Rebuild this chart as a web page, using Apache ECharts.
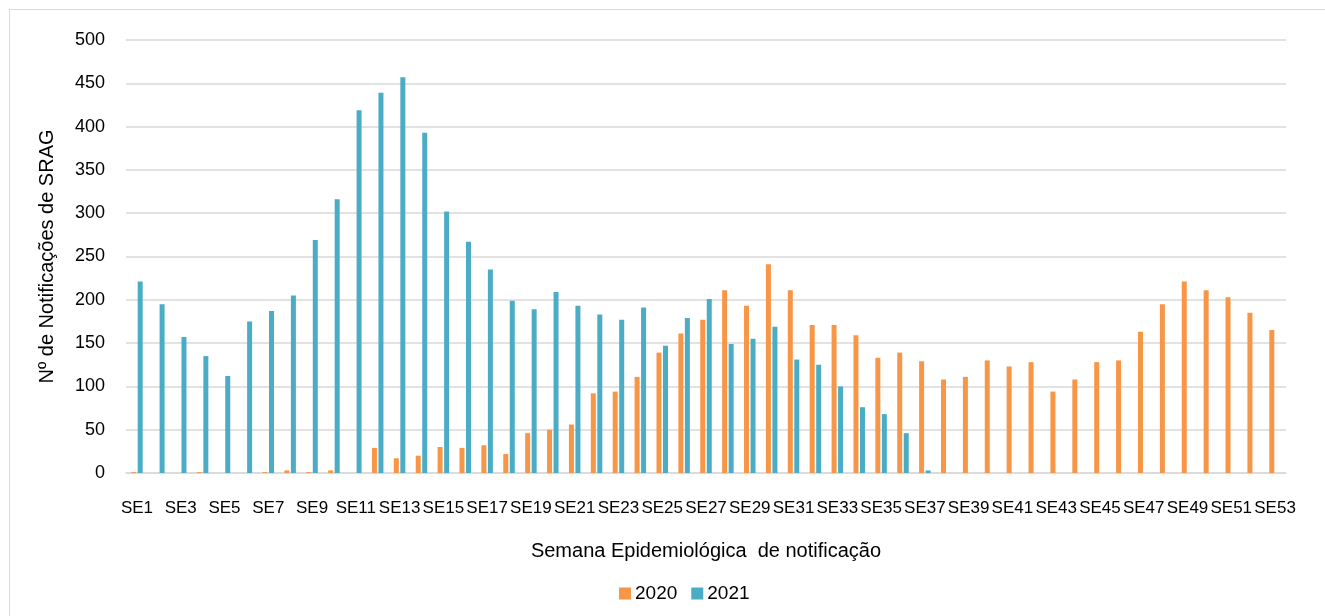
<!DOCTYPE html>
<html>
<head>
<meta charset="utf-8">
<script src="https://cdn.jsdelivr.net/npm/echarts@6/dist/echarts.min.js"></script>
<style>
html,body{margin:0;padding:0;background:#fff;overflow:hidden;}
#frame{position:absolute;left:9px;top:9px;width:1400px;height:700px;border:1px solid #d9d9d9;box-sizing:border-box;}
#chart{position:absolute;left:0;top:0;width:1325px;height:616px;}
</style>
</head>
<body>
<div id="frame"></div>
<div id="chart"></div>
<script>
const categories = [];
for (let i = 1; i <= 53; i++) categories.push('SE' + i);

const series2020 = [1,0,0,1,0,0,1,3,1,3,0,29,17,20,30,29,32,22,46,50,
                    56,92,94,111,139,161,177,211,193,241,211,171,171,159,133,139,129,108,111,130,
                    123,128,94,108,128,130,163,195,221,211,203,185,165];
const series2021 = [221,195,157,135,112,175,187,205,269,316,419,439,457,393,302,267,235,199,189,209,
                    193,183,177,191,147,179,201,149,155,169,131,125,100,76,68,46,3,0,0,0,
                    0,0,0,0,0,0,0,0,0,0,0,0,0];
const legendNames = ['2020', '2021'];
const yTitle = 'Nº de Notificações de SRAG';
const xTitle = 'Semana Epidemiológica  de notificação';

const FONT = '"Liberation Sans", Arial, sans-serif';
const chart = echarts.init(document.getElementById('chart'), null, {renderer: 'canvas'});
chart.setOption({
  animation: false,
  backgroundColor: 'transparent',
  textStyle: {fontFamily: FONT},
  grid: {left: 126, right: 39, top: 40, bottom: 143, containLabel: false},
  legend: {
    data: legendNames,
    left: 614, top: 579,
    itemWidth: 12, itemHeight: 12, itemGap: 14,
    icon: 'rect',
    textStyle: {fontFamily: FONT, fontSize: 19, color: '#000', padding: [0,0,0,-1]}
  },
  xAxis: {
    type: 'category',
    data: categories,
    axisTick: {show: false},
    axisLine: {lineStyle: {color: '#d9d9d9', width: 1.5}},
    axisLabel: {interval: 1, margin: 27, fontSize: 17, color: '#000', fontFamily: FONT},
    name: xTitle,
    nameLocation: 'middle',
    nameGap: 68,
    nameTextStyle: {fontSize: 20, color: '#000', fontFamily: FONT}
  },
  yAxis: {
    type: 'value',
    min: 0, max: 500, interval: 50,
    axisLine: {show: false},
    axisTick: {show: false},
    splitLine: {lineStyle: {color: '#d9d9d9', width: 1.5}},
    axisLabel: {margin: 21, fontSize: 18, color: '#000', fontFamily: FONT},
    name: yTitle,
    nameLocation: 'middle',
    nameGap: 69,
    nameTextStyle: {fontSize: 20, color: '#000', fontFamily: FONT}
  },
  series: [
    {name: legendNames[0], type: 'bar', data: series2020, barWidth: 5, barGap: '30%',
     itemStyle: {color: '#f79646'}},
    {name: legendNames[1], type: 'bar', data: series2021, barWidth: 5,
     itemStyle: {color: '#4bacc6'}}
  ]
});
</script>
</body>
</html>
